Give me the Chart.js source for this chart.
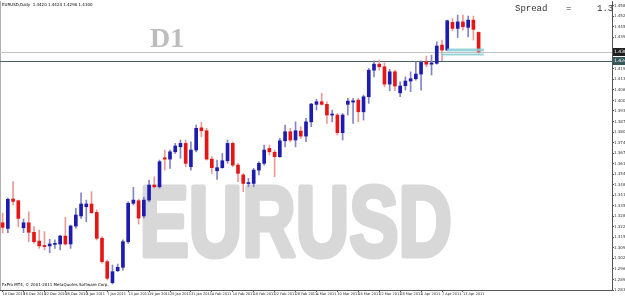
<!DOCTYPE html>
<html>
<head>
    <title>EURUSD Daily</title>
    <script src="https://cdn.jsdelivr.net/npm/chart.js"></script>
    <meta charset="UTF-8" />
    <style>
  html, body {
    margin: 0;
    padding: 0;
    background: #ffffff;
    overflow: hidden;
  }
  canvas {
    display: block;
  }
</style>
</head>
<body>
    <canvas id="myChart" width="625" height="296"></canvas>
    <script>
        // daily bars, 10 Dec 2010 .. 18 Apr 2011
        const dates = ['10 Dec 2010','13 Dec 2010','14 Dec 2010','15 Dec 2010','16 Dec 2010','17 Dec 2010','20 Dec 2010','21 Dec 2010','22 Dec 2010','23 Dec 2010','24 Dec 2010','27 Dec 2010','28 Dec 2010','29 Dec 2010','30 Dec 2010','31 Dec 2010',
            '3 Jan 2011','4 Jan 2011','5 Jan 2011','6 Jan 2011','7 Jan 2011','10 Jan 2011','11 Jan 2011','12 Jan 2011','13 Jan 2011','14 Jan 2011','17 Jan 2011','18 Jan 2011','19 Jan 2011','20 Jan 2011','21 Jan 2011','24 Jan 2011','25 Jan 2011','26 Jan 2011','27 Jan 2011','28 Jan 2011','31 Jan 2011',
            '1 Feb 2011','2 Feb 2011','3 Feb 2011','4 Feb 2011','7 Feb 2011','8 Feb 2011','9 Feb 2011','10 Feb 2011','11 Feb 2011','14 Feb 2011','15 Feb 2011','16 Feb 2011','17 Feb 2011','18 Feb 2011','21 Feb 2011','22 Feb 2011','23 Feb 2011','24 Feb 2011','25 Feb 2011','28 Feb 2011',
            '1 Mar 2011','2 Mar 2011','3 Mar 2011','4 Mar 2011','7 Mar 2011','8 Mar 2011','9 Mar 2011','10 Mar 2011','11 Mar 2011','14 Mar 2011','15 Mar 2011','16 Mar 2011','17 Mar 2011','18 Mar 2011','21 Mar 2011','22 Mar 2011','23 Mar 2011','24 Mar 2011','25 Mar 2011','28 Mar 2011','29 Mar 2011','30 Mar 2011','31 Mar 2011',
            '1 Apr 2011','4 Apr 2011','5 Apr 2011','6 Apr 2011','7 Apr 2011','8 Apr 2011','11 Apr 2011','12 Apr 2011','13 Apr 2011','14 Apr 2011','15 Apr 2011','18 Apr 2011'];

        const opens = [1.3245,1.3210,1.3392,1.3381,1.3214,1.3245,1.3186,1.3132,1.3105,1.3102,1.3112,1.3114,1.3163,1.3114,1.3225,1.3287,
            1.3344,1.3361,1.3309,1.3149,1.3005,1.2875,1.2949,1.2970,1.3128,1.3365,1.3381,1.3287,1.3385,1.3478,1.3467,1.3646,1.3638,1.3683,1.3714,1.3735,1.3591,
            1.3694,1.3831,1.3813,1.3638,1.3566,1.3585,1.3628,1.3735,1.3601,1.3540,1.3487,1.3488,1.3570,1.3612,1.3704,1.3680,1.3653,1.3751,1.3807,1.3756,
            1.3811,1.3780,1.3868,1.3976,1.3992,1.3976,1.3910,1.3910,1.3801,1.3976,1.3990,1.4002,1.3930,1.4023,1.4187,1.4224,1.4208,1.4101,1.4177,1.4047,1.4091,1.4120,1.4134,
            1.4163,1.4239,1.4224,1.4229,1.4342,1.4311,1.4482,1.4445,1.4485,1.4451,1.4496,1.4420];
        const highs = [1.3305,1.3398,1.3500,1.3385,1.3268,1.3313,1.3221,1.3200,1.3190,1.3143,1.3139,1.3169,1.3279,1.3231,1.3334,1.3430,
            1.3385,1.3437,1.3324,1.3159,1.3015,1.2984,1.2990,1.3139,1.3375,1.3464,1.3392,1.3404,1.3509,1.3529,1.3632,1.3694,1.3694,1.3735,1.3756,1.3756,1.3745,
            1.3848,1.3865,1.3828,1.3653,1.3632,1.3673,1.3756,1.3745,1.3612,1.3550,1.3519,1.3581,1.3622,1.3725,1.3725,1.3694,1.3766,1.3848,1.3828,1.3868,
            1.3838,1.3889,1.3982,1.4007,1.4044,1.3992,1.3941,1.3920,1.3920,1.4013,1.4013,1.4013,1.4033,1.4198,1.4245,1.4249,1.4232,1.4192,1.4187,1.4115,1.4146,1.4177,1.4239,
            1.4245,1.4274,1.4280,1.4362,1.4373,1.4496,1.4506,1.4527,1.4527,1.4521,1.4521,1.4424];
        const lows = [1.3182,1.3184,1.3355,1.3219,1.3184,1.3128,1.3118,1.3087,1.3077,1.3060,1.3087,1.3077,1.3108,1.3087,1.3211,1.3272,
            1.3251,1.3303,1.3139,1.2995,1.2892,1.2867,1.2943,1.2953,1.3118,1.3355,1.3237,1.3274,1.3373,1.3458,1.3458,1.3570,1.3581,1.3673,1.3643,1.3591,1.3570,
            1.3683,1.3776,1.3632,1.3550,1.3513,1.3581,1.3612,1.3591,1.3498,1.3437,1.3467,1.3467,1.3540,1.3601,1.3663,1.3529,1.3649,1.3714,1.3745,1.3714,
            1.3766,1.3745,1.3838,1.3941,1.3972,1.3859,1.3868,1.3786,1.3756,1.3910,1.3859,1.3868,1.3879,1.3982,1.4146,1.4187,1.4084,1.4060,1.4060,1.4023,1.4064,1.4054,1.4126,
            1.4064,1.4208,1.4157,1.4224,1.4245,1.4307,1.4430,1.4389,1.4434,1.4393,1.4373,1.4290];
        const closes = [1.3217,1.3390,1.3377,1.3272,1.3245,1.3186,1.3128,1.3102,1.3098,1.3114,1.3115,1.3163,1.3114,1.3225,1.3293,1.3361,
            1.3361,1.3307,1.3149,1.3005,1.2902,1.2943,1.2970,1.3128,1.3365,1.3385,1.3274,1.3385,1.3478,1.3467,1.3622,1.3638,1.3683,1.3719,1.3735,1.3612,1.3694,
            1.3828,1.3813,1.3638,1.3585,1.3585,1.3628,1.3735,1.3601,1.3550,1.3488,1.3492,1.3570,1.3612,1.3694,1.3683,1.3653,1.3751,1.3807,1.3756,1.3813,
            1.3780,1.3868,1.3978,1.3992,1.3976,1.3910,1.3914,1.3801,1.3910,1.3996,1.3998,1.3930,1.4023,1.4187,1.4224,1.4208,1.4101,1.4177,1.4089,1.4089,1.4120,1.4134,1.4163,
            1.4235,1.4224,1.4232,1.4336,1.4311,1.4492,1.4445,1.4485,1.4455,1.4496,1.4439,1.4300];

        // price scale labels on the right
        const yTicks = [1.2830,1.2895,1.2960,1.3025,1.3090,1.3155,1.3220,1.3285,1.3350,1.3415,1.3480,1.3545,1.3610,1.3675,
            1.3740,1.3805,1.3870,1.3935,1.4000,1.4065,1.4130,1.4195,1.4260,1.4325,1.4390,1.4455,1.4520,1.4585];

        // horizontal levels: bid line and a drawn level
        const bidPrice = closes[closes.length - 1];
        const levelPrice = 1.4243;
        // short cyan marks on the right of the last bars
        const markUpper = 1.4311;
        const markLower = 1.4283;

        const emptySlots = 25;
        const labels = dates.concat(Array(emptySlots).fill(''));
        const bull = closes.map((c, i) => c >= opens[i]);

        const upperMark = labels.map((l, i) => (i >= 85 && i <= 92) ? markUpper : null);
        const lowerMark = labels.map((l, i) => (i >= 84 && i <= 92) ? markLower : null);

        const overlay = {
            id: 'overlay',
            beforeDatasetsDraw(chart) {
                const {ctx, chartArea: a, scales: {y}} = chart;
                ctx.save();
                // big symbol watermark
                ctx.fillStyle = '#d8d8d8';
                ctx.strokeStyle = '#d8d8d8';
                ctx.lineWidth = 5;
                ctx.lineJoin = 'round';
                ctx.font = 'bold 100px "Liberation Sans"';
                ctx.textBaseline = 'alphabetic';
                ctx.translate(139.5, 256);
                ctx.scale(0.74, 1);
                ctx.strokeText('EURUSD', 0, 0);
                ctx.fillText('EURUSD', 0, 0);
                ctx.restore();

                ctx.save();
                ctx.fillStyle = '#bdbdbd';
                ctx.font = 'bold 28px "Liberation Serif"';
                ctx.fillText('D1', 150, 47);

                // frame
                ctx.strokeStyle = '#b0b0b0';
                ctx.lineWidth = 1;
                ctx.beginPath();
                ctx.moveTo(0.5, a.top);
                ctx.lineTo(0.5, a.bottom);
                ctx.stroke();

                let py = Math.round(y.getPixelForValue(bidPrice)) + 0.5;
                ctx.strokeStyle = '#c4c4c4';
                ctx.beginPath();
                ctx.moveTo(a.left, py);
                ctx.lineTo(a.right, py);
                ctx.stroke();

                py = Math.round(y.getPixelForValue(levelPrice)) + 0.5;
                ctx.strokeStyle = '#45605f';
                ctx.beginPath();
                ctx.moveTo(a.left, py);
                ctx.lineTo(a.right, py);
                ctx.stroke();
                ctx.restore();
            },
            afterDraw(chart) {
                const {ctx, chartArea: a, scales: {y}} = chart;
                ctx.save();
                ctx.fillStyle = '#000000';
                ctx.font = '4px "DejaVu Sans"';
                ctx.textBaseline = 'middle';
                ctx.fillText('EURUSD,Daily  ' + opens[opens.length - 1].toFixed(4) + ' ' + highs[highs.length - 1].toFixed(4) + ' ' +
                    lows[lows.length - 1].toFixed(4) + ' ' + closes[closes.length - 1].toFixed(4), 2, 5);
                ctx.fillText('FxPro MT4, \u00a9 2001-2011 MetaQuotes Software Corp.', 2, 285);

                ctx.fillStyle = '#333333';
                ctx.font = '9px "Liberation Mono"';
                ctx.fillText('Spread', 515, 9);
                ctx.fillText('=', 566, 9);
                ctx.fillText('1.3', 597, 9);

                // price markers on the axis
                [[bidPrice, '#1e1e1e'], [levelPrice, '#35575a']].forEach(([p, col]) => {
                    const py = Math.round(y.getPixelForValue(p));
                    ctx.fillStyle = col;
                    ctx.fillRect(a.right + 1, py - 4, 625 - a.right - 1, 8);
                    ctx.fillStyle = '#ffffff';
                    ctx.font = '4.5px "DejaVu Sans"';
                    ctx.fillText(p.toFixed(4), a.right + 2, py);
                });
                ctx.restore();
            }
        };

        const ctx = document.getElementById('myChart').getContext('2d');
        const myChart = new Chart(ctx, {
            type: 'bar',
            data: {
                labels: labels,
                datasets: [{
                    label: 'wick',
                    data: lows.map((l, i) => [l, highs[i]]),
                    backgroundColor: bull.map(b => b ? '#8484c6' : '#e89a9a'),
                    barThickness: 1,
                    grouped: false,
                    order: 3
                },
                {
                    label: 'body',
                    data: opens.map((o, i) => [o, closes[i]]),
                    backgroundColor: bull.map(b => b ? '#1c1cae' : '#e41616'),
                    barThickness: 3,
                    minBarLength: 1,
                    grouped: false,
                    order: 2
                },
                {
                    type: 'line',
                    label: 'mark1',
                    data: upperMark,
                    borderColor: 'rgba(140, 208, 214, 0.9)',
                    borderWidth: 3,
                    pointRadius: 0,
                    order: 1
                },
                {
                    type: 'line',
                    label: 'mark2',
                    data: lowerMark,
                    borderColor: 'rgba(140, 208, 214, 0.9)',
                    borderWidth: 2,
                    pointRadius: 0,
                    order: 1
                }]
            },
            options: {
                responsive: false,
                animation: false,
                layout: { padding: { top: 1, left: 0, right: 0, bottom: 0 } },
                plugins: {
                    legend: { display: false },
                    tooltip: { enabled: false }
                },
                scales: {
                    x: {
                        offset: true,
                        grid: {
                            display: true,
                            drawOnChartArea: false,
                            offset: false,
                            tickLength: 2,
                            color: (c) => (c.index % 4 === 0 && c.index < dates.length) ? '#555555' : 'rgba(0,0,0,0)'
                        },
                        border: { color: '#555555' },
                        ticks: {
                            autoSkip: false,
                            maxRotation: 0,
                            minRotation: 0,
                            align: 'start',
                            padding: 0,
                            color: '#222222',
                            font: { size: 3.5, family: 'DejaVu Sans' },
                            callback: function (v, i) {
                                return (i % 4 === 0 && i < dates.length) ? dates[i] : '';
                            }
                        },
                        afterFit: (s) => { s.height = 6; s.paddingLeft = 0; s.paddingRight = 0; }
                    },
                    y: {
                        position: 'right',
                        min: 1.2830,
                        max: 1.4614,
                        grid: { drawOnChartArea: false, tickLength: 2, color: '#555555' },
                        border: { color: '#555555' },
                        ticks: {
                            padding: 0,
                            color: '#333333',
                            font: { size: 4, family: 'DejaVu Sans' },
                            callback: (v) => v.toFixed(4)
                        },
                        afterBuildTicks: (s) => {
                            s.ticks = yTicks
                                .filter(v => Math.abs(v - bidPrice) > 0.0035 && Math.abs(v - levelPrice) > 0.0035)
                                .map(v => ({ value: v }));
                        },
                        afterFit: (s) => { s.width = 13; s.paddingTop = 0; s.paddingBottom = 0; }
                    }
                }
            },
            plugins: [overlay]
        });
    </script>
</body>
</html>
